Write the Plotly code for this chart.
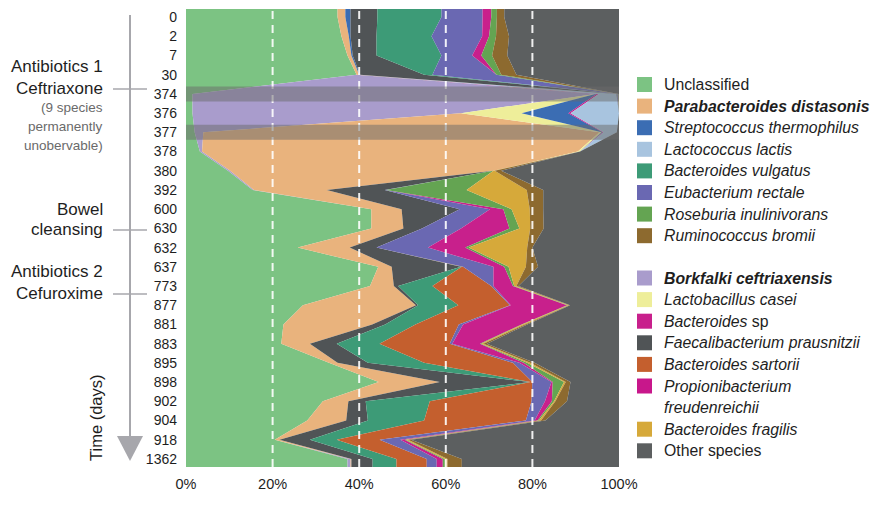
import plotly.graph_objects as go

# Sampling days (rows of the chart, top to bottom)
days = ["0", "2", "7", "30", "374", "376", "377", "378", "380", "392", "600", "630",
        "632", "637", "773", "877", "881", "883", "895", "898", "902", "904", "918", "1362"]

# Relative abundance (%) per species at each sampling day
unclassified = [35.0, 35.9, 37.3, 39.4, 1.5, 1.5, 2.0, 3.2, 9.7, 15.4, 42.8, 42.8,
                25.8, 44.4, 42.5, 27.0, 22.5, 22.0, 33.0, 44.5, 31.6, 28.0, 20.5, 37.3]
borkfalki = [0, 0, 0, 0, 93.0, 62.0, 2.0, 0.5, 0.5, 0.3, 0, 0,
             0, 0, 0, 0, 0, 0, 0, 0, 0, 0, 0, 0.7]
parabacteroides = [1.8, 1.7, 0.9, 0.6, 0, 0, 91.5, 86.8, 60.8, 16.8, 7.0, 7.4,
                   12.0, 3.1, 5.5, 26.1, 20.5, 6.6, 2.0, 14.1, 5.9, 9.0, 1.1, 0.2]
lactobacillus = [0, 0, 0, 0, 0, 14.0, 0.5, 0.5, 0, 0, 0, 0,
                 0, 0, 0, 0, 0, 0, 0, 0, 0, 0, 0, 0]
streptococcus = [1.2, 0.4, 0.3, 0.2, 0.3, 10.8, 0.2, 0, 0, 0, 0, 0,
                 0, 0, 0, 0, 0, 0, 0, 0, 0, 0, 0, 0]
propionibacterium = [0, 0, 0, 0, 0.5, 0.5, 0.2, 0, 0, 0, 0, 0,
                     0, 0, 0, 0, 0, 0, 0, 0, 0, 0, 0, 0]
lactococcus = [0, 0, 0, 0, 4.1, 11.2, 3.1, 0, 0, 0, 0, 0,
               0, 0, 0, 0, 0, 0, 0, 0, 0, 0, 0, 0]
faecalibacterium = [6.2, 6.0, 5.5, 14.8, 0.1, 0, 0, 0, 0, 13.4, 13.4, 4.3,
                    6.2, 16.0, 1.0, 0.5, 3.0, 6.2, 7.0, 20.9, 4.0, 5.0, 7.0, 4.9]
b_vulgatus = [14.8, 12.7, 15.0, 1.9, 0, 0, 0, 0, 0, 0, 0, 0,
              0, 0.2, 7.9, 9.3, 7.0, 9.9, 13.0, 0.1, 14.8, 13.0, 6.2, 5.5]
b_sartorii = [0, 0, 0, 0, 0, 0, 0, 0, 0, 0, 0, 0,
              0, 0.3, 13.6, 11.9, 10.0, 16.2, 20.5, 0.4, 23.5, 23.5, 9.9, 7.0]
eubacterium = [9.5, 11.7, 7.1, 14.8, 0.2, 0, 0, 0, 0, 0.3, 7.0, 9.0,
               11.9, 7.0, 0.5, 0.2, 1.0, 0.6, 1.5, 4.4, 3.1, 2.0, 4.8, 2.3]
bacteroides_sp = [2.0, 1.6, 2.1, 0, 0, 0, 0, 0, 0, 0, 3.1, 11.2,
                  8.6, 2.5, 4.5, 13.0, 13.5, 6.4, 1.0, 0.3, 1.6, 0.7, 1.0, 1.4]
roseburia = [1.3, 1.6, 2.5, 1.1, 0.1, 0, 0, 0, 0, 18.6, 1.9, 2.3,
             0.8, 1.0, 0.3, 0.2, 0.2, 0.3, 0.8, 2.6, 0.5, 0.3, 0.3, 0.5]
b_fragilis = [0, 0, 0, 0, 0, 0, 0, 0, 0.3, 13.9, 4.2, 2.5,
              13.5, 4.0, 0.5, 0.3, 0.6, 0.5, 0.7, 0.4, 0.3, 0.5, 0.5, 0.6]
ruminococcus = [1.7, 3.0, 3.5, 3.5, 0.1, 0, 0, 0, 1.5, 3.8, 3.1, 3.1,
                1.2, 2.8, 0.5, 0.2, 0.5, 0.8, 1.0, 1.1, 2.7, 1.0, 0.7, 3.3]
other = [26.5, 25.4, 25.8, 23.7, 0.1, 0, 0.5, 9.0, 27.2, 17.5, 17.5, 17.4,
         20.0, 18.7, 23.2, 11.3, 21.2, 30.5, 19.5, 11.2, 12.0, 17.0, 48.0, 36.3]

# Stacking order (left to right) with fill colours
stack = [
    (unclassified, "#7cc383"),
    (borkfalki, "#a99ccc"),
    (parabacteroides, "#e9b37d"),
    (lactobacillus, "#eeee9a"),
    (streptococcus, "#3b6db3"),
    (propionibacterium, "#c8178b"),
    (lactococcus, "#a8c4df"),
    (faecalibacterium, "#505456"),
    (b_vulgatus, "#3d9b77"),
    (b_sartorii, "#c45f2e"),
    (eubacterium, "#6a68b2"),
    (bacteroides_sp, "#c8208c"),
    (roseburia, "#64a452"),
    (b_fragilis, "#d6a93a"),
    (ruminococcus, "#8d6a2f"),
    (other, "#5c5f60"),
]

# Legend entries
legend_top = [
    ("Unclassified", "#7cc383"),
    ("<b><i>Parabacteroides distasonis</i></b>", "#e9b37d"),
    ("<i>Streptococcus thermophilus</i>", "#3b6db3"),
    ("<i>Lactococcus lactis</i>", "#a8c4df"),
    ("<i>Bacteroides vulgatus</i>", "#3d9b77"),
    ("<i>Eubacterium rectale</i>", "#6a68b2"),
    ("<i>Roseburia inulinivorans</i>", "#64a452"),
    ("<i>Ruminococcus bromii</i>", "#8d6a2f"),
]
legend_bottom = [
    ("<b><i>Borkfalki ceftriaxensis</i></b>", "#a99ccc", None),
    ("<i>Lactobacillus casei</i>", "#eeee9a", None),
    ("<i>Bacteroides</i> sp", "#c8208c", None),
    ("<i>Faecalibacterium prausnitzii</i>", "#505456", None),
    ("<i>Bacteroides sartorii</i>", "#c45f2e", None),
    ("<i>Propionibacterium</i>", "#c8178b", "<i>freudenreichii</i>"),
    ("<i>Bacteroides fragilis</i>", "#d6a93a", None),
    ("Other species", "#5c5f60", None),
]

masked_days = ["374", "377"]
grid_pcts = [20, 40, 60, 80]
pct_ticks = [0, 20, 40, 60, 80, 100]
pct_labels = [f"{v}%" for v in pct_ticks]

W, H = 884, 507
PL, PR, PT, PB = 186, 619, 9, 467
ROW_PAD = 0.42


def fx(xp):
    return (xp - PL) / (PR - PL)


def fy(yp):
    return (PB - yp) / (PB - PT)


n = len(days)
ypos = [-ROW_PAD] + list(range(n)) + [n - 1 + ROW_PAD]

fig = go.Figure()
for vals, col in stack:
    xs = [vals[0]] + list(vals) + [vals[-1]]
    fig.add_trace(go.Scatter(
        x=xs, y=ypos, orientation="h", stackgroup="abund", mode="none",
        fillcolor=col, line=dict(width=0), showlegend=False, hoverinfo="skip"))

shapes = []
# white dashed guide lines
for g in grid_pcts:
    shapes.append(dict(type="line", xref="x", yref="paper", x0=g, x1=g, y0=0, y1=1,
                       line=dict(color="rgba(255,255,255,0.9)", width=2, dash="8px,6px"),
                       layer="above"))
# translucent bands over days where species were lost
for d in masked_days:
    i = days.index(d)
    shapes.append(dict(type="rect", xref="paper", yref="y", x0=0, x1=1,
                       y0=i - 0.39, y1=i + 0.39, line=dict(width=0),
                       fillcolor="rgba(105,105,105,0.5)", layer="above"))

# time arrow with event markers
arrow_col = "#a7a7ac"
shapes.append(dict(type="line", xref="paper", yref="paper", x0=fx(130), x1=fx(130),
                   y0=fy(15), y1=fy(437), line=dict(color=arrow_col, width=2)))
shapes.append(dict(type="path", xref="paper", yref="paper",
                   path=f"M {fx(117)},{fy(436)} L {fx(143)},{fy(436)} L {fx(130)},{fy(461)} Z",
                   fillcolor=arrow_col, line=dict(width=0)))
for yy in [89, 230, 294]:
    shapes.append(dict(type="line", xref="paper", yref="paper", x0=fx(113), x1=fx(147),
                       y0=fy(yy), y1=fy(yy), line=dict(color=arrow_col, width=1.5)))

annotations = []
TXT = "#1e1e1e"
FONT = "Liberation Sans, Arial, Helvetica, sans-serif"


def left_label(text, yy, size=17, color=TXT):
    annotations.append(dict(xref="paper", yref="paper", x=fx(105), y=fy(yy), text=text,
                            showarrow=False, xanchor="right", yanchor="middle",
                            font=dict(size=size, color=color, family=FONT)))


left_label("Antibiotics 1", 67)
left_label("Ceftriaxone", 88)
left_label("(9 species", 107, 13.5, "#6a6a6a")
left_label("permanently", 126, 13.5, "#6a6a6a")
left_label("unobervable)", 145, 13.5, "#6a6a6a")
left_label("Bowel", 209)
left_label("cleansing", 229)
left_label("Antibiotics 2", 271)
left_label("Cefuroxime", 293)
annotations.append(dict(xref="paper", yref="paper", x=fx(96), y=fy(418), text="Time (days)",
                        showarrow=False, textangle=-90, xanchor="center", yanchor="middle",
                        font=dict(size=16.5, color=TXT, family=FONT)))

# legend drawn beside the plot
LEG_SQ_X, LEG_TX_X, LEG_SQ = 637, 662, 15
LEG_STEP = 21.6


def legend_item(text, col, yy):
    shapes.append(dict(type="rect", xref="paper", yref="paper",
                       x0=fx(LEG_SQ_X), x1=fx(LEG_SQ_X + LEG_SQ),
                       y0=fy(yy + LEG_SQ / 2), y1=fy(yy - LEG_SQ / 2),
                       fillcolor=col, line=dict(width=0)))
    annotations.append(dict(xref="paper", yref="paper", x=fx(LEG_TX_X), y=fy(yy), text=text,
                            showarrow=False, xanchor="left", yanchor="middle",
                            font=dict(size=15.8, color=TXT, family=FONT)))


yy = 84.5
for text, col in legend_top:
    legend_item(text, col, yy)
    yy += LEG_STEP
yy = 278
for text, col, extra in legend_bottom:
    legend_item(text, col, yy)
    yy += LEG_STEP
    if extra:
        annotations.append(dict(xref="paper", yref="paper", x=fx(LEG_TX_X), y=fy(yy), text=extra,
                                showarrow=False, xanchor="left", yanchor="middle",
                                font=dict(size=15.8, color=TXT, family=FONT)))
        yy += LEG_STEP

fig.update_layout(
    width=W, height=H,
    margin=dict(l=PL, r=W - PR, t=PT, b=H - PB, pad=0),
    plot_bgcolor="white", paper_bgcolor="white",
    font=dict(family=FONT, color=TXT),
    showlegend=False,
    shapes=shapes, annotations=annotations,
    xaxis=dict(range=[0, 100], tickmode="array", tickvals=pct_ticks, ticktext=pct_labels,
               showgrid=False, zeroline=False, showline=False, ticks="", ticklabelstandoff=6,
               tickfont=dict(size=14.5, color=TXT, family=FONT)),
    yaxis=dict(range=[n - 1 + ROW_PAD, -ROW_PAD], tickvals=list(range(n)), ticktext=days,
               showgrid=False, zeroline=False, showline=False, ticks="", ticklabelstandoff=8,
               tickfont=dict(size=14, color=TXT, family=FONT)),
)

fig.write_html("out.html")
